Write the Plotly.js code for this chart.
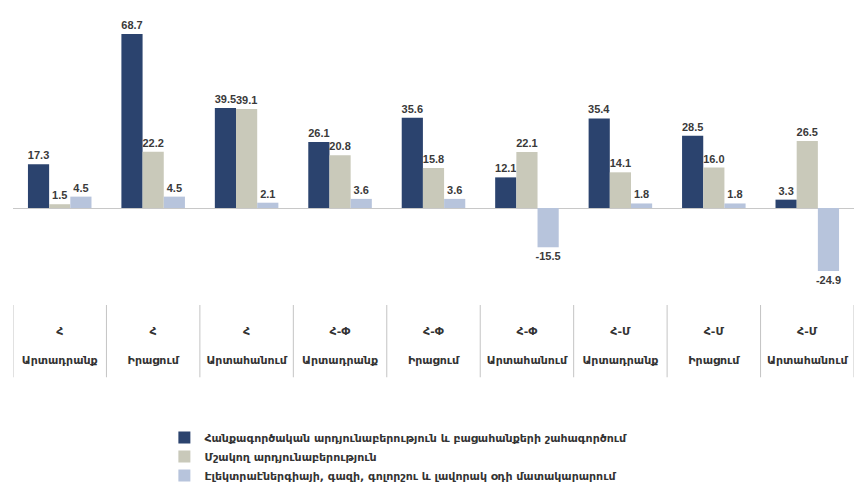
<!DOCTYPE html>
<html>
<head>
<meta charset="utf-8">
<script src="https://cdn.plot.ly/plotly-3.0.1.min.js"></script>
<style>html,body{margin:0;padding:0;background:#fff;}#chart{width:854px;height:490px;}</style>
</head>
<body>
<div id="chart"></div>
<script>
const periods = ["Հ", "Հ", "Հ", "Հ-Փ", "Հ-Փ", "Հ-Փ", "Հ-Մ", "Հ-Մ", "Հ-Մ"];
const indicators = ["Արտադրանք", "Իրացում", "Արտահանում", "Արտադրանք", "Իրացում", "Արտահանում", "Արտադրանք", "Իրացում", "Արտահանում"];
const seriesNames = [
  "Հանքագործական արդյունաբերություն և բացահանքերի շահագործում",
  "Մշակող արդյունաբերություն",
  "Էլեկտրաէներգիայի, գազի, գոլորշու և լավորակ օդի մատակարարում"
];
const mining = [17.3, 68.7, 39.5, 26.1, 35.6, 12.1, 35.4, 28.5, 3.3];
const manufacturing = [1.5, 22.2, 39.1, 20.8, 15.8, 22.1, 14.1, 16.0, 26.5];
const electricity = [4.5, 4.5, 2.1, 3.6, 3.6, -15.5, 1.8, 1.8, -24.9];

const colors = ["#2b436e", "#c9c9ba", "#b7c4dc"];
const cats = periods.map((p, i) => p + "<br> <br>" + indicators[i]);
const FONT = "Liberation Sans, DejaVu Sans, sans-serif";
const ARM = "DejaVu Sans, sans-serif";

const traces = [mining, manufacturing, electricity].map((vals, k) => ({
  type: "bar",
  name: seriesNames[k],
  x: cats.map((c, i) => i),
  y: vals,
  marker: {color: colors[k]},
  text: vals.map(v => v.toFixed(1)),
  textposition: "outside",
  constraintext: "none",
  textfont: {family: FONT, size: 11, color: "#3a3a3a", weight: "bold"},
  cliponaxis: false,
  hoverinfo: "y"
}));

const layout = {
  width: 854, height: 490,
  margin: {l: 13, r: 0, t: 10, b: 185},
  paper_bgcolor: "#fff", plot_bgcolor: "#fff",
  font: {family: FONT, size: 10, color: "#333"},
  barmode: "group",
  bargap: 0.32,
  bargroupgap: 0,
  showlegend: true,
  legend: {
    x: 0.18, y: -0.4, xanchor: "left", yanchor: "top",
    orientation: "v",
    font: {family: ARM, size: 11, color: "#333", weight: "bold"},
    itemwidth: 30,
    traceorder: "normal"
  },
  xaxis: {
    type: "linear",
    range: [-0.5, 8.5],
    tickmode: "array",
    tickvals: cats.map((c, i) => i),
    ticktext: cats,
    ticks: "",
    showline: false,
    showgrid: false,
    zeroline: false,
    tickfont: {family: ARM, size: 11, color: "#333", weight: "bold"},
    ticklabelstandoff: 18,
    fixedrange: true
  },
  yaxis: {
    range: [-38.3, 78.2],
    showgrid: false,
    showticklabels: false,
    ticks: "",
    zeroline: true,
    zerolinecolor: "#c8c8c8",
    zerolinewidth: 1,
    fixedrange: true
  },
  shapes: [-0.5, 0.5, 1.5, 2.5, 3.5, 4.5, 5.5, 6.5, 7.5, 8.5].map(b => ({
    type: "line", xref: "x", yref: "paper",
    x0: b, x1: b, y0: 0, y1: -0.245,
    line: {color: "#c4c4c4", width: 1}
  }))
};

Plotly.newPlot("chart", traces, layout, {displayModeBar: false, staticPlot: true});
</script>
</body>
</html>
